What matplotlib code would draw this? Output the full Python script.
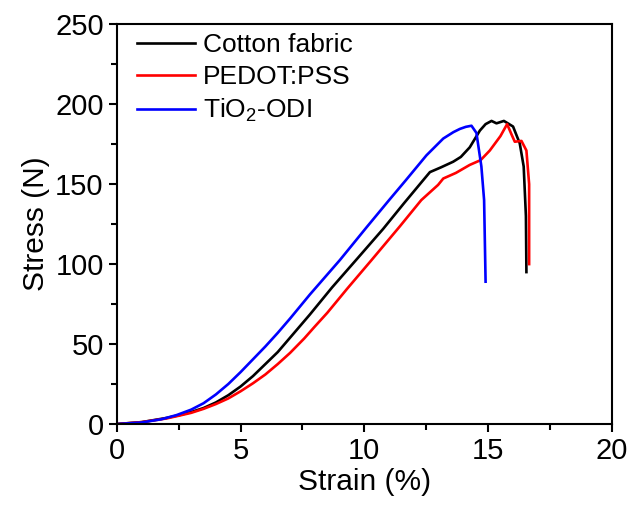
import matplotlib
matplotlib.use("Agg")
import matplotlib.pyplot as plt
from matplotlib.ticker import MultipleLocator

plt.rcParams['font.family'] = ['Liberation Sans', 'DejaVu Sans']
plt.rcParams['mathtext.fontset'] = 'custom'
plt.rcParams['mathtext.rm'] = 'Liberation Sans'
plt.rcParams['mathtext.it'] = 'Liberation Sans'

# data -----------------------------------------------------------
cotton_strain = [0, 1.0, 2.0, 2.5, 3.0, 3.5, 4.0, 4.5, 5.0, 5.5, 6.0, 6.5, 6.86,
                 7.8, 8.7, 9.69, 10.76, 11.6, 12.38, 12.65, 13.1, 13.59, 13.9,
                 14.26, 14.67, 14.9, 15.14, 15.34, 15.64, 16.01, 16.28, 16.44,
                 16.53, 16.55]
cotton_stress = [0, 1.2, 3.8, 5.5, 7.5, 10, 13.5, 18, 23.5, 30, 37.5, 45, 51.5,
                 68.5, 85.5, 103, 122, 138, 152.5, 157.5, 160.5, 164, 167,
                 173, 183.5, 187.5, 189.5, 188, 189.5, 186, 175.5, 161,
                 130, 95]

pedot_strain = [0, 1.0, 2.0, 2.5, 3.0, 3.5, 4.0, 4.5, 5.0, 5.5, 6.0, 6.5, 7.0,
                7.57, 8.0, 8.5, 9.3, 10.29, 11.43, 12.3, 12.98, 13.19, 13.7,
                14.26, 14.7, 15.07, 15.5, 15.77, 15.95, 16.08, 16.35, 16.55,
                16.66, 16.66]
pedot_stress = [0, 1.2, 3.5, 5.2, 7, 9.5, 12.5, 16, 20.5, 25.5, 31, 37.5, 44.5,
                53.5, 61, 69.5, 84.5, 102.5, 123.5, 140, 149.5, 153.5, 157,
                162, 165, 171, 180, 187.5, 181, 176.5, 177, 171,
                150, 100]

tio2_strain = [0, 1.0, 1.8, 2.41, 3.0, 3.5, 4.0, 4.5, 5.0, 5.5, 6.0, 6.5, 7.0,
               7.8, 9.01, 10.09, 11.0, 11.68, 12.51, 13.19, 13.6, 13.86, 14.1,
               14.33, 14.53, 14.73, 14.84, 14.9]
tio2_stress = [0, 1, 3, 5.6, 9, 13, 18.5, 25, 32.5, 40.5, 48.5, 57, 66,
               81, 102.5, 123, 140, 152.5, 168, 178.5, 182.5, 184.5, 185.8,
               186.5, 182, 161, 140, 89]

labels = ['Cotton fabric', 'PEDOT:PSS', 'TiO$_2$-ODI']
colors = ['black', 'red', 'blue']


def main():
    fig = plt.figure(figsize=(6.32, 5.14), dpi=100)
    ax = fig.add_axes([0.185, 0.175, 0.783, 0.778])

    series = [(cotton_strain, cotton_stress),
              (pedot_strain, pedot_stress),
              (tio2_strain, tio2_stress)]
    for (x, y), lab, c in zip(series, labels, colors):
        ax.plot(x, y, color=c, lw=1.9, label=lab)

    ax.set_xlim(0, 20)
    ax.set_ylim(0, 250)
    ax.xaxis.set_major_locator(MultipleLocator(5))
    ax.xaxis.set_minor_locator(MultipleLocator(2.5))
    ax.yaxis.set_major_locator(MultipleLocator(50))
    ax.yaxis.set_minor_locator(MultipleLocator(25))
    ax.tick_params(which='both', direction='out', width=1.5, labelsize=21,
                   top=False, right=False)
    ax.tick_params(which='major', length=6)
    ax.tick_params(which='minor', length=4)
    for sp in ax.spines.values():
        sp.set_linewidth(1.5)

    ax.set_xlabel('Strain (%)', fontsize=21.5, labelpad=2)
    ax.set_ylabel('Stress (N)', fontsize=21.5, labelpad=4)

    ax.legend(loc='upper left', bbox_to_anchor=(0.03, 0.99), frameon=False,
              fontsize=19, handlelength=2.2, handletextpad=0.3,
              labelspacing=0.3, borderpad=0.2, borderaxespad=0)

    fig.savefig('out.png', dpi=100)


if __name__ == "__main__":
    main()
